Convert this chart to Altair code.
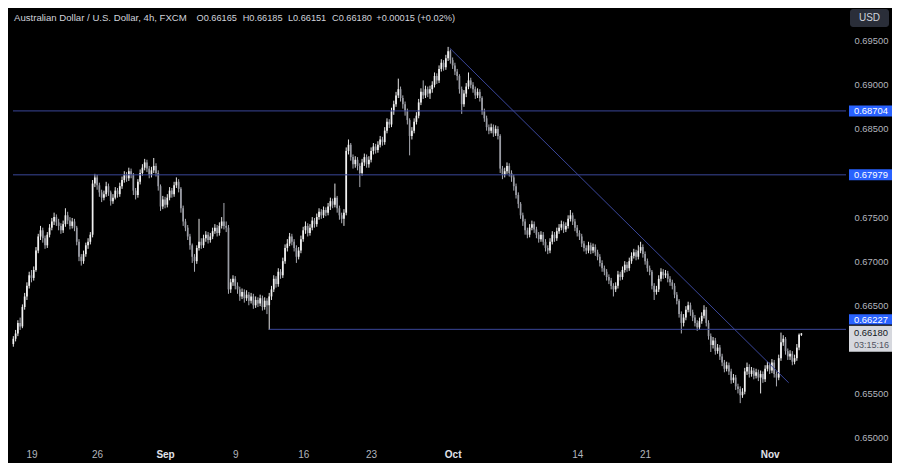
import json
import altair as alt
import pandas as pd

# ---------------- data (prices in pips, 1e-4) ----------------
# path_pips[k] is the open of 4h bar k and the close of bar k-1
path_pips = [6606,
    6612, 6618, 6630, 6626, 6648, 6660, 6672, 6684, 6681, 6690, 6712,
    6728, 6735, 6726, 6718, 6730, 6738, 6745, 6750, 6744, 6740, 6735, 6742, 6752, 6746, 6740, 6745, 6738, 6722, 6705, 6700, 6708, 6718, 6722, 6730,
    6788, 6795, 6786, 6778, 6772, 6776, 6785, 6778, 6768, 6772, 6780, 6776, 6785, 6792, 6798, 6794, 6802, 6798, 6780, 6775, 6790, 6800, 6806, 6812, 6805, 6798, 6803, 6808, 6800,
    6785, 6762, 6770, 6764, 6772, 6780, 6776, 6786, 6790, 6782, 6760, 6745, 6738, 6728, 6718, 6705, 6700, 6715, 6722, 6718, 6726, 6730, 6724, 6728, 6734, 6738, 6732, 6740, 6745, 6740, 6738,
    6668, 6676, 6680, 6672, 6668, 6660, 6665, 6658, 6662, 6655, 6660, 6650, 6656, 6652, 6658, 6648, 6655, 6650, 6660, 6668, 6680, 6674, 6688, 6684, 6700, 6715, 6720, 6728, 6722,
    6715, 6705, 6712, 6725, 6735, 6740, 6732, 6738, 6746, 6742, 6750, 6756, 6752, 6758, 6755, 6762, 6768, 6764, 6772, 6760, 6752, 6748, 6755,
    6825, 6832, 6818, 6810, 6815, 6808, 6800, 6812, 6818, 6810, 6815, 6825, 6830, 6826, 6832, 6838, 6835, 6848, 6858, 6855, 6870, 6878, 6888, 6895, 6885, 6878, 6870, 6860, 6842, 6848, 6858, 6865, 6880, 6892, 6888, 6895, 6890,
    6895, 6900, 6910, 6905, 6918, 6925, 6920, 6930, 6938, 6928, 6922, 6915, 6910, 6895, 6878, 6890, 6898, 6905, 6900, 6895, 6888, 6892, 6885, 6870, 6862, 6852, 6848, 6852, 6845, 6850, 6842,
    6805, 6798, 6802, 6808, 6800, 6795, 6785, 6775, 6765, 6752, 6745, 6735, 6730, 6738, 6742, 6736, 6730, 6725, 6730, 6722, 6715, 6712, 6722, 6730, 6726, 6734, 6738, 6742, 6736, 6740, 6748, 6752, 6745,
    6738, 6732, 6728, 6720, 6715, 6712, 6718, 6712, 6716, 6710, 6705, 6698, 6692, 6688, 6682, 6678, 6672, 6668, 6672, 6685, 6682, 6690, 6696, 6692, 6700, 6706, 6710, 6705, 6712, 6716,
    6708, 6700, 6692, 6688, 6672, 6665, 6668, 6680, 6688, 6684, 6686, 6680, 6676, 6672, 6662, 6655, 6640, 6630, 6636, 6645, 6650, 6642, 6636, 6630, 6625, 6632, 6638, 6645, 6630, 6615, 6605,
    6610, 6598, 6602, 6592, 6585, 6578, 6582, 6575, 6565, 6568, 6558, 6555, 6548, 6552, 6575, 6580, 6572, 6576, 6570, 6574, 6568, 6572, 6566, 6578, 6582, 6576, 6585, 6572, 6568, 6590,
    6608, 6612, 6598, 6592, 6595, 6586, 6590, 6602, 6616.5, 6618]

high_pips = [
    6615, 6622, 6633, 6636, 6651, 6664, 6676, 6688, 6690, 6694, 6716,
    6731, 6740, 6738, 6729, 6733, 6742, 6749, 6755, 6753, 6748, 6743, 6746, 6760, 6756, 6750, 6749, 6748, 6740, 6725, 6708, 6712, 6721, 6726, 6733,
    6792, 6799, 6798, 6789, 6781, 6780, 6790, 6788, 6780, 6776, 6784, 6783, 6789, 6796, 6802, 6801, 6806, 6805, 6800, 6783, 6793, 6804, 6810, 6816, 6815, 6808, 6807, 6817, 6811,
    6803, 6787, 6774, 6773, 6776, 6784, 6783, 6790, 6795, 6793, 6784, 6763, 6748, 6741, 6731, 6720, 6708, 6718, 6748, 6726, 6730, 6734, 6733, 6732, 6738, 6742, 6741, 6744, 6750, 6766, 6745,
    6741, 6680, 6684, 6683, 6676, 6671, 6669, 6668, 6667, 6665, 6664, 6663, 6660, 6659, 6662, 6661, 6659, 6658, 6664, 6672, 6684, 6683, 6692, 6691, 6704, 6719, 6725, 6732, 6731,
    6725, 6718, 6716, 6729, 6739, 6745, 6743, 6742, 6750, 6749, 6754, 6760, 6759, 6762, 6761, 6766, 6772, 6771, 6788, 6774, 6763, 6755, 6759,
    6829, 6838, 6834, 6821, 6819, 6818, 6811, 6816, 6822, 6821, 6819, 6829, 6834, 6833, 6836, 6842, 6841, 6852, 6862, 6861, 6874, 6882, 6892, 6907, 6898, 6888, 6881, 6873, 6862, 6852, 6862, 6869, 6884, 6896, 6905, 6899, 6898,
    6899, 6904, 6914, 6913, 6922, 6929, 6928, 6934, 6943, 6940, 6931, 6925, 6918, 6912, 6898, 6894, 6902, 6914, 6908, 6903, 6898, 6896, 6895, 6887, 6873, 6865, 6855, 6856, 6855, 6854, 6853,
    6844, 6808, 6806, 6812, 6811, 6803, 6798, 6788, 6778, 6767, 6755, 6748, 6738, 6742, 6746, 6745, 6739, 6733, 6734, 6733, 6725, 6718, 6726, 6734, 6733, 6738, 6742, 6746, 6745, 6744, 6752, 6758, 6755,
    6748, 6741, 6735, 6731, 6723, 6718, 6722, 6721, 6720, 6719, 6713, 6708, 6701, 6695, 6691, 6685, 6681, 6675, 6676, 6689, 6688, 6694, 6700, 6699, 6704, 6710, 6714, 6713, 6718, 6722,
    6719, 6711, 6703, 6695, 6690, 6675, 6672, 6684, 6692, 6691, 6690, 6689, 6683, 6679, 6675, 6665, 6657, 6643, 6640, 6649, 6654, 6653, 6645, 6639, 6633, 6636, 6642, 6650, 6648, 6633, 6618,
    6614, 6613, 6606, 6605, 6595, 6588, 6586, 6585, 6578, 6572, 6571, 6561, 6558, 6556, 6579, 6585, 6583, 6580, 6579, 6578, 6577, 6576, 6575, 6582, 6586, 6585, 6589, 6588, 6575, 6594,
    6619, 6616, 6614, 6601, 6599, 6598, 6594, 6606, 6618, 6618.5]

low_pips = [
    6603, 6609, 6615, 6622, 6624, 6645, 6656, 6669, 6676, 6678, 6688,
    6709, 6724, 6721, 6714, 6715, 6727, 6735, 6741, 6740, 6735, 6731, 6732, 6739, 6742, 6736, 6737, 6734, 6718, 6700, 6695, 6697, 6705, 6714, 6719,
    6727, 6784, 6781, 6773, 6767, 6769, 6773, 6774, 6763, 6765, 6770, 6772, 6773, 6782, 6789, 6790, 6791, 6794, 6775, 6770, 6772, 6787, 6797, 6803, 6801, 6794, 6795, 6800, 6796,
    6780, 6757, 6759, 6760, 6761, 6769, 6772, 6773, 6783, 6778, 6755, 6740, 6734, 6724, 6713, 6698, 6688, 6697, 6712, 6714, 6715, 6722, 6720, 6721, 6725, 6731, 6728, 6729, 6737, 6736, 6733,
    6663, 6664, 6672, 6668, 6663, 6655, 6657, 6653, 6655, 6650, 6652, 6646, 6647, 6648, 6649, 6644, 6645, 6640, 6622, 6656, 6665, 6670, 6671, 6680, 6681, 6697, 6711, 6717, 6718,
    6711, 6698, 6702, 6709, 6722, 6731, 6728, 6729, 6735, 6738, 6739, 6747, 6748, 6749, 6751, 6752, 6758, 6760, 6761, 6755, 6747, 6743, 6740,
    6752, 6821, 6814, 6805, 6806, 6803, 6784, 6797, 6808, 6806, 6806, 6812, 6821, 6822, 6823, 6829, 6831, 6832, 6845, 6851, 6852, 6866, 6875, 6885, 6881, 6873, 6865, 6855, 6820, 6838, 6845, 6855, 6862, 6877, 6884, 6885, 6886,
    6884, 6891, 6897, 6901, 6902, 6915, 6916, 6917, 6927, 6924, 6918, 6911, 6905, 6890, 6867, 6875, 6886, 6895, 6896, 6891, 6884, 6885, 6881, 6866, 6858, 6848, 6844, 6845, 6841, 6842, 6838,
    6800, 6793, 6795, 6799, 6796, 6790, 6780, 6771, 6760, 6748, 6740, 6730, 6726, 6727, 6735, 6732, 6726, 6721, 6722, 6718, 6711, 6708, 6709, 6719, 6722, 6723, 6731, 6735, 6732, 6733, 6737, 6745, 6741,
    6734, 6728, 6724, 6716, 6711, 6708, 6709, 6708, 6709, 6706, 6701, 6694, 6688, 6684, 6678, 6674, 6668, 6660, 6665, 6669, 6678, 6679, 6687, 6688, 6689, 6697, 6703, 6701, 6702, 6709,
    6704, 6696, 6688, 6684, 6668, 6656, 6662, 6665, 6677, 6680, 6681, 6676, 6672, 6668, 6658, 6651, 6636, 6618, 6626, 6633, 6642, 6638, 6632, 6626, 6621, 6622, 6629, 6635, 6626, 6611, 6597,
    6601, 6594, 6595, 6588, 6581, 6574, 6575, 6571, 6561, 6562, 6554, 6550, 6539, 6545, 6549, 6571, 6568, 6569, 6566, 6567, 6564, 6550, 6562, 6563, 6575, 6572, 6573, 6568, 6558, 6565,
    6587, 6604, 6594, 6588, 6588, 6582, 6583, 6587, 6599, 6615.1]

# date axis: bar index of each labelled session, and its label
tick_bars = [8, 37, 67, 98, 128, 158, 194, 249, 279, 334]
tick_labels = ["19", "26", "Sep", "9", "16", "23", "Oct", "14", "21", "Nov"]
month_bars = [67, 194, 334]

price_ticks = [0.650, 0.655, 0.665, 0.670, 0.675, 0.685, 0.690, 0.695]

level_prices = [0.68704, 0.67979, 0.66227]
level_start_bar = [-0.15, -0.15, 113]
trend_bars = [192.7, 342.4]
trend_prices = [0.69417, 0.65621]

last_price = 0.66180
countdown = "03:15:16"
symbol_text = "Australian Dollar / U.S. Dollar, 4h, FXCM"
ohlc_items = ["O0.66165", "H0.66185", "L0.66151", "C0.66180", "+0.00015 (+0.02%)"]
currency = "USD"

# ---------------- layout / style ----------------
W, H = 838, 438
TOTAL_W = 884
BG = "#000000"
UP = "#f2f2f2"
DOWN = "#9a9ca4"
WICK_UP = "#e6e6e6"
WICK_DOWN = "#a8aab2"
LINE = "#3a4699"
TAG = "#2962ff"
TXT = "#d1d4dc"
AX = "#b2b5be"
FONT = "Liberation Sans"
PFS = 9.4  # price-column font size
TX = W + 8  # left edge of price-column texts

n = min(len(path_pips) - 1, len(high_pips), len(low_pips))
df = pd.DataFrame({
    "bar": list(range(n)),
    "open": [p / 10000 for p in path_pips[:n]],
    "close": [p / 10000 for p in path_pips[1:n + 1]],
    "high": [p / 10000 for p in high_pips[:n]],
    "low": [p / 10000 for p in low_pips[:n]],
})

xs = alt.Scale(domain=[-0.15, 365.5], nice=False, zero=False)
ys = alt.Scale(domain=[0.64904, 0.69871], nice=False, zero=False)

label_expr = f"{json.dumps(tick_labels)}[indexof({json.dumps(tick_bars)}, datum.value)]"
month_test = f"indexof({json.dumps(month_bars)}, datum.value) >= 0"

x_axis = alt.Axis(
    values=tick_bars, labelExpr=label_expr, title=None, grid=False, domain=False,
    ticks=False, tickSize=0, labelPadding=3, labelFont=FONT, labelFontSize=10,
    labelColor={"condition": {"test": month_test, "value": "#e0e3eb"}, "value": AX},
    labelFontWeight={"condition": {"test": month_test, "value": "bold"}, "value": "normal"},
    labelFlush=False, labelOverlap=False, labelAlign="center",
)
y_axis = alt.Axis(
    values=price_ticks, format=".5f", orient="right", title=None, grid=False,
    domain=False, ticks=False, tickSize=0, labelPadding=8, labelFont=FONT,
    labelFontSize=PFS, labelColor=AX, labelAlign="left", labelOverlap=False,
    labelFlush=False,
)

is_up = "datum.close >= datum.open"

wicks = alt.Chart(df).mark_rule(strokeWidth=1).encode(
    x=alt.X("bar:Q", scale=xs, axis=x_axis),
    y=alt.Y("low:Q", scale=ys, axis=y_axis),
    y2="high:Q",
    color=alt.condition(is_up, alt.value(WICK_UP), alt.value(WICK_DOWN)),
)
bodies = alt.Chart(df).mark_bar(size=1.7).encode(
    x=alt.X("bar:Q", scale=xs),
    y=alt.Y("open:Q", scale=ys),
    y2="close:Q",
    color=alt.condition(is_up, alt.value(UP), alt.value(DOWN)),
)

lv = pd.DataFrame({"bar": level_start_bar, "price": level_prices,
                   "label": [f"{p:.5f}" for p in level_prices]})
levels = alt.Chart(lv).mark_rule(color=LINE, strokeWidth=1).encode(
    x=alt.X("bar:Q", scale=xs), x2=alt.value(W),
    y=alt.Y("price:Q", scale=ys),
)

tr = pd.DataFrame({"bar": [trend_bars[0]], "bar2": [trend_bars[1]],
                   "price": [trend_prices[0]], "price2": [trend_prices[1]]})
trend = alt.Chart(tr).mark_rule(color=LINE, strokeWidth=1).encode(
    x=alt.X("bar:Q", scale=xs), x2="bar2:Q",
    y=alt.Y("price:Q", scale=ys), y2="price2:Q",
)

# price tags on the axis
upper_tags = lv.iloc[:2]
lower_tag = lv.iloc[2:]
tag_rect_up = alt.Chart(upper_tags).mark_rect(color=TAG, yOffset=-5.5, y2Offset=5.5).encode(
    x=alt.value(W + 3), x2=alt.value(TOTAL_W), y=alt.Y("price:Q", scale=ys), y2="price:Q")
tag_text_up = alt.Chart(upper_tags).mark_text(
    align="left", baseline="middle", font=FONT, fontSize=PFS, color="#ffffff").encode(
    x=alt.value(TX), y=alt.Y("price:Q", scale=ys), text="label:N")
tag_rect_lo = alt.Chart(lower_tag).mark_rect(color=TAG, yOffset=-15, y2Offset=-4.8).encode(
    x=alt.value(W + 3), x2=alt.value(TOTAL_W), y=alt.Y("price:Q", scale=ys), y2="price:Q")
tag_text_lo = alt.Chart(lower_tag).mark_text(
    align="left", baseline="middle", font=FONT, fontSize=PFS, color="#ffffff", dy=-9.8).encode(
    x=alt.value(TX), y=alt.Y("price:Q", scale=ys), text="label:N")

cur = pd.DataFrame({"price": [last_price], "label": [f"{last_price:.5f}"], "timer": [countdown]})
cur_rect = alt.Chart(cur).mark_rect(color="#d6d8de", yOffset=-7.7, y2Offset=18.3).encode(
    x=alt.value(W + 3), x2=alt.value(TOTAL_W), y=alt.Y("price:Q", scale=ys), y2="price:Q")
cur_text = alt.Chart(cur).mark_text(
    align="left", baseline="middle", font=FONT, fontSize=PFS, color="#131722").encode(
    x=alt.value(TX), y=alt.Y("price:Q", scale=ys), text="label:N")
cur_timer = alt.Chart(cur).mark_text(
    align="left", baseline="middle", font=FONT, fontSize=9, color="#50535e", dy=11.5).encode(
    x=alt.value(TX), y=alt.Y("price:Q", scale=ys), text="timer:N")

# header text
one = pd.DataFrame({"symbol": [symbol_text], "cur": [currency]})
header = [alt.Chart(one).mark_text(align="left", baseline="middle", font=FONT,
                                   fontSize=9.6, color=TXT).encode(
    x=alt.value(6), y=alt.value(9.6), text="symbol:N")]
ohlc_x = [188.5, 234.7, 279.9, 324.0, 368.3]
for item, xp in zip(ohlc_items, ohlc_x):
    header.append(alt.Chart(pd.DataFrame({"t": [item]})).mark_text(
        align="left", baseline="middle", font=FONT, fontSize=9.2, color=TXT).encode(
        x=alt.value(xp), y=alt.value(9.6), text="t:N"))

usd_box = alt.Chart(one).mark_rect(color="#2a2e39", cornerRadius=3).encode(
    x=alt.value(842), x2=alt.value(881), y=alt.value(1), y2=alt.value(19))
usd_text = alt.Chart(one).mark_text(align="center", baseline="middle", font=FONT,
                                    fontSize=10, color=TXT).encode(
    x=alt.value(861.5), y=alt.value(10), text="cur:N")

chart = alt.layer(
    wicks, bodies, levels, trend,
    tag_rect_up, tag_text_up, tag_rect_lo, tag_text_lo,
    cur_rect, cur_text, cur_timer,
    *header, usd_box, usd_text,
).properties(
    width=W, height=H,
    background=BG,
    padding={"left": 0, "top": 0, "right": TOTAL_W - W, "bottom": 17},
    autosize=alt.AutoSizeParams(type="none"),
).configure_view(strokeWidth=0, fill=BG)

chart.save("out.html", embed_options={"renderer": "svg", "actions": False})
